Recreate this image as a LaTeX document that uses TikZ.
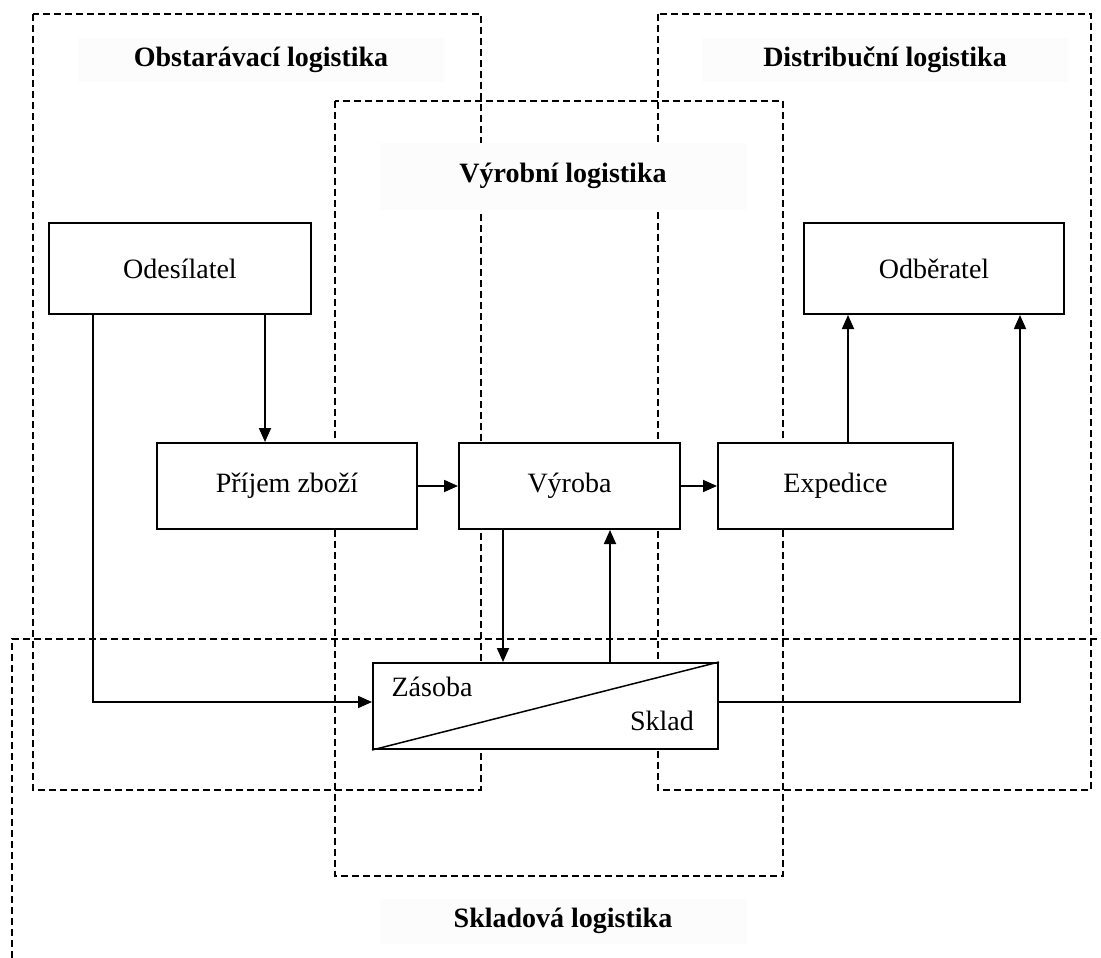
\documentclass[tikz,border=0pt]{standalone}
\usepackage{fontspec}
\setmainfont{Liberation Serif}
\usetikzlibrary{arrows.meta}
\definecolor{titlebg}{RGB}{252,252,252}
\begin{document}
\begin{tikzpicture}[x=1pt,y=-1pt,
  region/.style={draw, line width=1.5pt, dash pattern=on 7pt off 4pt},
  titlebox/.style={fill=titlebg, inner sep=0pt, minimum width=367pt,
    font=\fontsize{28}{32}\selectfont\bfseries},
  block/.style={draw, fill=white, line width=2pt, inner sep=0pt,
    font=\fontsize{28}{32}\selectfont},
  plain/.style={inner sep=0pt, font=\fontsize{28}{32}\selectfont},
  link/.style={line width=1.8pt},
  arr/.style={link, -{Triangle[length=14pt,width=12pt]}}
]
\useasboundingbox (0,0) rectangle (1101,958);

% logistics areas
\draw[region] (33,14) rectangle (481,790);
\draw[region] (658,14) rectangle (1091,790);
\draw[region] (335,101) rectangle (783,876);
\draw[region] (12,958) -- (12,639) -- (1101,639);

% area titles
\node[titlebox, minimum height=44pt] (tobst) at (261,60) {Obstarávací logistika};
\node[titlebox, minimum height=44pt] (tdist) at (885,60) {Distribuční logistika};
\node[titlebox, minimum height=67pt] (tvyr) at (563,176) {Výrobní logistika};
\node[titlebox, minimum height=45pt] (tskl) at (563,921) {Skladová logistika};

% blocks
\node[block, minimum width=262pt, minimum height=91pt] (odes) at (180,268.5) {Odesílatel};
\node[block, minimum width=260pt, minimum height=91pt] (odber) at (934,268.5) {Odběratel};
\node[block, minimum width=260pt, minimum height=86pt] (prijem) at (287,486) {Příjem zboží};
\node[block, minimum width=221pt, minimum height=86pt] (vyroba) at (569.5,486) {Výroba};
\node[block, minimum width=235pt, minimum height=86pt] (exped) at (835.5,486) {Expedice};
\node[block, minimum width=345pt, minimum height=86pt] (sklad) at (545.5,706) {};
\draw[link, line width=1.5pt] (sklad.south west) -- (sklad.north east);
\node[plain] (zasoba) at (432,687) {Zásoba};
\node[plain] (skladtxt) at (662,721) {Sklad};

% material flows
\draw[arr] ([xshift=85pt]odes.south) -- ([xshift=85pt]odes.south |- prijem.north);
\draw[arr] ([xshift=-87pt]odes.south) |- ([yshift=4pt]sklad.west);
\draw[arr] (prijem.east) -- (vyroba.west);
\draw[arr] (vyroba.east) -- (exped.west);
\draw[arr] ([xshift=-66.5pt]vyroba.south) -- ([xshift=-66.5pt]vyroba.south |- sklad.north);
\draw[arr] ([xshift=64.5pt]sklad.north) -- ([xshift=64.5pt]sklad.north |- vyroba.south);
\draw[arr] ([xshift=12.5pt]exped.north) -- ([xshift=12.5pt]exped.north |- odber.south);
\draw[arr] ([yshift=4pt]sklad.east) -| ([xshift=86pt]odber.south);
\end{tikzpicture}
\end{document}
